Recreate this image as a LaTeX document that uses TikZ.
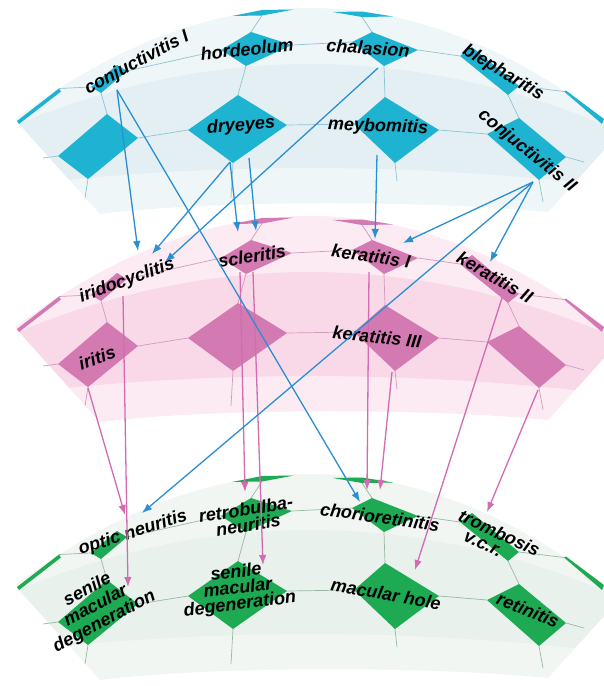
\documentclass[tikz,border=0pt]{standalone}
\usepackage{fontspec}
\setmainfont{Liberation Sans}
\usetikzlibrary{arrows.meta}

\definecolor{cyancell}{HTML}{1FB3D2}
\definecolor{pinkcell}{HTML}{D47AB3}
\definecolor{greencell}{HTML}{1DAA52}
\definecolor{cyanline}{HTML}{8FC3D3}
\definecolor{pinkline}{HTML}{D49ABD}
\definecolor{greenline}{HTML}{98B8A2}
\definecolor{cyanbase}{HTML}{EFF6F8}
\definecolor{cyanstrip}{HTML}{E4EFF4}
\definecolor{pinkbase}{HTML}{FCEBF3}
\definecolor{pinkstrip}{HTML}{F9D9E8}
\definecolor{greenbase}{HTML}{F2F6F3}
\definecolor{greenstrip}{HTML}{E9F1EC}
\definecolor{arrblue}{HTML}{2A8FD2}
\definecolor{arrpink}{HTML}{D16CB1}

\tikzset{
  lbl/.style={font=\bfseries\itshape\fontsize{18}{16}\selectfont, text=black, inner sep=0pt, align=center},
  lbltall/.style={lbl, font=\bfseries\itshape\fontsize{18}{18}\selectfont},
  meshline/.style={line width=0.7pt},
  bluearrow/.style={draw=arrblue, line width=1.3pt, -{Latex[length=10pt,width=7.5pt]}},
  pinkarrow/.style={draw=arrpink, line width=1.3pt, -{Latex[length=10pt,width=7.5pt]}},
}

% corner coordinates of one map cell: left, top, right, bottom
\newcommand{\cellat}[5]{%
  \coordinate (#1l) at #2; \coordinate (#1t) at #3;
  \coordinate (#1r) at #4; \coordinate (#1b) at #5;}
\newcommand{\cellfill}[2]{\fill[#2] (#1l) -- (#1t) -- (#1r) -- (#1b) -- cycle;}

% one curved map layer: #1 prefix, #2 vertical offset, #3 cell colour,
% #4 grid colour, #5 surface colour, #6 inner strip colour
\newcommand{\somband}[6]{%
\begin{scope}[shift={(0,#2)}]
  \fill[#5] plot[domain=15:604,samples=50] (\x,{8+12.8*((\x-310)/100)^2})
     -- (604,150) -- (548,212) .. controls (430,200) and (210,200) .. (100,214) -- cycle;
  \begin{scope}
    \clip plot[domain=15:604,samples=50] (\x,{8+12.8*((\x-310)/100)^2})
     -- (604,150) -- (548,212) .. controls (430,200) and (210,200) .. (100,214) -- cycle;
    \fill[#6] plot[domain=0:604,samples=30] (\x,{64+7*((\x-310)/100)^2})
     -- plot[domain=604:0,samples=30] (\x,{168+2*((\x-310)/100)^2}) -- cycle;
  \end{scope}
  % edge cells cut by the rim
  \cellat{#1-10}{(17,121)}{(59,88.5)}{(61,91.5)}{(19,124)}
  \cellat{#1-02}{(232,16)}{(262,10)}{(294,9.5)}{(262,15.5)}
  \cellat{#1-03}{(333,12)}{(362,11.5)}{(393,16.5)}{(362,17)}
  \cellat{#1-15}{(564,91.5)}{(566,90.5)}{(604,119)}{(602,124)}
  % full cells
  \cellat{#1-11}{(91,87)}{(117,65)}{(127,71)}{(101,93)}
  \cellat{#1-12}{(221,50)}{(251,32)}{(292,45)}{(246,66)}
  \cellat{#1-13}{(352,42)}{(372,32)}{(418,50)}{(384,66)}
  \cellat{#1-14}{(460,56)}{(472,47)}{(519,86)}{(508,95)}
  \cellat{#1-21}{(58,156)}{(107,114)}{(138,138)}{(88,179)}
  \cellat{#1-22}{(188,130)}{(238,95)}{(287,125)}{(233,163)}
  \cellat{#1-23}{(354,124)}{(385,97)}{(439,130)}{(395,163)}
  \cellat{#1-24}{(487,134)}{(519,118)}{(566,157)}{(539,180)}
  \coordinate (#1-20) at (43,158);
  \coordinate (#1-25) at (584,162);
  \coordinate (#1-31) at (85,198);
  \coordinate (#1-32) at (231,198);
  \coordinate (#1-33) at (397,181);
  \coordinate (#1-34) at (543,202);
  % grid links
  \begin{scope}[meshline, draw=#4]
    \draw (#1-10t) -- (#1-11l);
    \draw (#1-11r) -- (#1-12l);
    \draw (#1-12r) -- (#1-13l);
    \draw (#1-13r) -- (#1-14l);
    \draw (#1-14r) -- (#1-15l);
    \draw (#1-20) -- (#1-21l);
    \draw (#1-21r) -- (#1-22l);
    \draw (#1-22r) -- (#1-23l);
    \draw (#1-23r) -- (#1-24l);
    \draw (#1-24r) -- (#1-25);
    \draw (#1-02b) -- (#1-12t);
    \draw (#1-03b) -- (#1-13t);
    \draw (#1-11b) -- (#1-21t);
    \draw (#1-12b) -- (#1-22t);
    \draw (#1-13b) -- (#1-23t);
    \draw (#1-14b) -- (#1-24t);
    \draw (#1-21b) -- (#1-31);
    \draw (#1-22b) -- (#1-32);
    \draw (#1-23b) -- (#1-33);
    \draw (#1-24b) -- (#1-34);
  \end{scope}
  \cellfill{#1-10}{#3}\cellfill{#1-02}{#3}\cellfill{#1-03}{#3}\cellfill{#1-15}{#3}
  \cellfill{#1-11}{#3}\cellfill{#1-12}{#3}\cellfill{#1-13}{#3}\cellfill{#1-14}{#3}
  \cellfill{#1-21}{#3}\cellfill{#1-22}{#3}\cellfill{#1-23}{#3}\cellfill{#1-24}{#3}
\end{scope}}

\begin{document}
\begin{tikzpicture}[x=1pt,y=-1pt]
\fill[white] (0,0) rectangle (604,686);
\useasboundingbox (0,0) rectangle (604,686);

\somband{T}{0}{cyancell}{cyanline}{cyanbase}{cyanstrip}
\somband{M}{208}{pinkcell}{pinkline}{pinkbase}{pinkstrip}
\somband{B}{466}{greencell}{greenline}{greenbase}{greenstrip}

% eyelid and conjunctiva layer
\node[lbl, rotate=28]  (conjI)  at (137,63)  {conjuctivitis I};
\node[lbl, rotate=6]   (hord)   at (247,49)  {hordeolum};
\node[lbl, rotate=-4]  (chal)   at (368,48)  {chalasion};
\node[lbl, rotate=-31] (bleph)  at (503,73)  {blepharitis};
\node[lbl, rotate=4]   (dry)    at (241,126) {dryeyes};
\node[lbl, rotate=-2]  (meyb)   at (378,127) {meybomitis};
\node[lbl, rotate=-39] (conjII) at (527,151) {conjuctivitis II};

% anterior segment layer
\node[lbl, rotate=20]  (irido)  at (127,281) {iridocyclitis};
\node[lbl, rotate=9]   (scler)  at (252,256) {scleritis};
\node[lbl, rotate=-8]  (kerI)   at (371,256) {keratitis I};
\node[lbl, rotate=-30] (kerII)  at (495,277) {keratitis II};
\node[lbl, rotate=20]  (iritis) at (97,358)  {iritis};
\node[lbl, rotate=-6]  (kerIII) at (377,337) {keratitis III};

% posterior segment layer
\node[lbl, rotate=18]  (optic)  at (133,533) {optic neuritis};
\node[lbl, rotate=9]   (retro)  at (247,517) {retrobulba-\\neuritis};
\node[lbl, rotate=-8]  (chorio) at (380,517) {chorioretinitis};
\node[lbl, rotate=-25] (tromb)  at (496,540) {trombosis\\v.c.r.\hspace*{20pt}};
\node[lbltall, rotate=28] (senA) at (96,606) {senile\\macular\\degeneration};
\node[lbl, rotate=7]   (senB)   at (238,589) {senile\\macular\\degeneration};
\node[lbl, rotate=-10] (machole) at (386,594) {macular hole};
\node[lbl, rotate=-22] (retin)  at (528,610) {retinitis};

% arrow ends
\coordinate (conjI-o) at (117,90);
\coordinate (dry-o1)  at (230,162);
\coordinate (dry-o2)  at (249,158);
\coordinate (chal-o)  at (378,68);
\coordinate (meyb-o)  at (377,155);
\coordinate (conjII-o) at (533,182);
\coordinate (irido-i1) at (138,251);
\coordinate (irido-i2) at (152,254);
\coordinate (irido-i3) at (165,262);
\coordinate (scler-i1) at (238,232);
\coordinate (scler-i2) at (256,231);
\coordinate (kerI-i1)  at (375,239);
\coordinate (kerI-i2)  at (403,243);
\coordinate (kerII-i)  at (490,262);
\coordinate (optic-i1) at (142,513);
\coordinate (chorio-i1) at (360,502);

\coordinate (irido-o)  at (123,296);
\coordinate (iritis-o) at (88,388);
\coordinate (scler-o1) at (240,272);
\coordinate (scler-o2) at (253,272);
\coordinate (kerI-o)   at (369,272);
\coordinate (kerIII-o) at (392,372);
\coordinate (kerII-o)  at (502,298);
\coordinate (M-24o)    at (538,390);
\coordinate (optic-i2) at (125,515);
\coordinate (senA-i)   at (128,587);
\coordinate (retro-i)  at (245,492);
\coordinate (senB-i)   at (263,565);
\coordinate (chorio-i2) at (367,490);
\coordinate (chorio-i3) at (380,490);
\coordinate (machole-i) at (415,570);
\coordinate (tromb-i)  at (487,512);

% relations between layers
\draw[pinkarrow] (irido-o) -- (senA-i);
\draw[pinkarrow] (iritis-o) -- (optic-i2);
\draw[pinkarrow] (scler-o1) -- (retro-i);
\draw[pinkarrow] (scler-o2) -- (senB-i);
\draw[pinkarrow] (kerI-o) -- (chorio-i2);
\draw[pinkarrow] (kerIII-o) -- (chorio-i3);
\draw[pinkarrow] (kerII-o) -- (machole-i);
\draw[pinkarrow] (M-24o) -- (tromb-i);

\draw[bluearrow] (conjI-o) -- (irido-i1);
\draw[bluearrow] (conjI-o) -- (chorio-i1);
\draw[bluearrow] (dry-o1) -- (irido-i2);
\draw[bluearrow] (chal-o) -- (irido-i3);
\draw[bluearrow] (dry-o1) -- (scler-i1);
\draw[bluearrow] (dry-o2) -- (scler-i2);
\draw[bluearrow] (meyb-o) -- (kerI-i1);
\draw[bluearrow] (conjII-o) -- (kerI-i2);
\draw[bluearrow] (conjII-o) -- (kerII-i);
\draw[bluearrow] (conjII-o) -- (optic-i1);
\end{tikzpicture}
\end{document}
